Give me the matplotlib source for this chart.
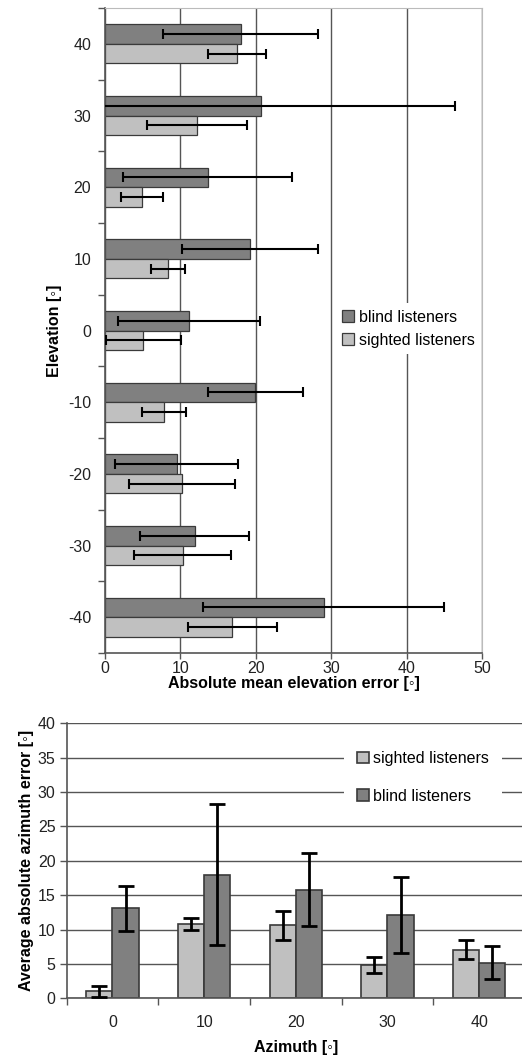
import matplotlib

matplotlib.use("Agg")
import matplotlib.pyplot as plt
import numpy as np

plt.rcParams["font.family"] = ["Liberation Sans", "DejaVu Sans"]

# ---- top panel: elevation error per elevation ----
elevations = [-40, -30, -20, -10, 0, 10, 20, 30, 40]
elev_blind = [29.0, 11.9, 9.5, 19.9, 11.1, 19.2, 13.6, 20.7, 18.0]
elev_blind_err = [16.0, 7.2, 8.2, 6.3, 9.4, 9.0, 11.2, 25.7, 10.3]
elev_sighted = [16.9, 10.3, 10.2, 7.8, 5.1, 8.3, 4.9, 12.2, 17.5]
elev_sighted_err = [5.9, 6.4, 7.0, 2.9, 5.0, 2.25, 2.8, 6.6, 3.9]

# ---- bottom panel: azimuth error per azimuth ----
azimuths = [0, 10, 20, 30, 40]
az_sighted = [1.0, 10.8, 10.6, 4.9, 7.1]
az_sighted_err = [0.8, 0.9, 2.1, 1.15, 1.4]
az_blind = [13.1, 18.0, 15.8, 12.1, 5.2]
az_blind_err = [3.3, 10.2, 5.3, 5.5, 2.35]

DARK = "#808080"
LIGHT = "#c0c0c0"
EDGE = "#3a3a3a"
GRID = "#555555"
TXT = "#222222"
DEG = "[\u25e6]"

fig = plt.figure(figsize=(5.22, 10.57), dpi=100)

# ================= top =================
ax1 = fig.add_axes([0.2011, 0.3822, 0.7223, 0.6102])
y = np.arange(len(elevations))
h = 0.272
ax1.barh(y + h / 2, elev_blind, height=h, color=DARK, edgecolor=EDGE,
         linewidth=0.9, label="blind listeners", zorder=2)
ax1.barh(y - h / 2, elev_sighted, height=h, color=LIGHT, edgecolor=EDGE,
         linewidth=0.9, label="sighted listeners", zorder=2)
ax1.errorbar(elev_blind, y + h / 2, xerr=elev_blind_err, fmt="none",
             ecolor="black", elinewidth=1.5, capsize=3.5, capthick=1.5, zorder=3)
ax1.errorbar(elev_sighted, y - h / 2, xerr=elev_sighted_err, fmt="none",
             ecolor="black", elinewidth=1.5, capsize=3.5, capthick=1.5, zorder=3)

ax1.set_xlim(0, 50)
ax1.set_ylim(-0.5, len(elevations) - 0.5)
ax1.set_xticks([0, 10, 20, 30, 40, 50])
ax1.set_yticks(y)
ax1.set_yticklabels([str(e) for e in elevations])
ax1.set_yticks(np.arange(-0.5, len(elevations)), minor=True)
ax1.tick_params(axis="y", which="major", length=0, pad=10, labelsize=11.5,
                labelcolor=TXT)
ax1.tick_params(axis="y", which="minor", length=5, width=1, color=GRID)
ax1.tick_params(axis="x", length=4, width=1, color=GRID, labelsize=11.5,
                labelcolor=TXT, pad=2)
ax1.grid(axis="x", color=GRID, linewidth=1, zorder=0)
ax1.set_axisbelow(True)
for s in ("top", "right"):
    ax1.spines[s].set_color("#bbbbbb")
for s in ("left", "bottom"):
    ax1.spines[s].set_color(GRID)
    ax1.spines[s].set_linewidth(1.2)
ax1.set_xlabel(f"Absolute mean elevation error {DEG}", fontsize=11.5,
               fontweight="bold", labelpad=0, color="black")
ax1.set_ylabel(f"Elevation {DEG}", fontsize=11.5, fontweight="bold",
               labelpad=4, color="black")
leg1 = ax1.legend(loc="center left", bbox_to_anchor=(0.59, 0.503),
                  frameon=True, framealpha=1, edgecolor="white", fontsize=11.5,
                  handlelength=0.75, handleheight=0.75, handletextpad=0.3,
                  labelspacing=0.5, borderpad=0.4, fancybox=False)
leg1.get_frame().set_linewidth(0)

# ================= bottom =================
ax2 = fig.add_axes([0.1277, 0.0555, 0.878, 0.2602])
x = np.arange(len(azimuths))
w = 0.285
ax2.bar(x - w / 2, az_sighted, width=w, color=LIGHT, edgecolor=EDGE,
        linewidth=1.2, label="sighted listeners", zorder=2)
ax2.bar(x + w / 2, az_blind, width=w, color=DARK, edgecolor=EDGE,
        linewidth=1.2, label="blind listeners", zorder=2)
ax2.errorbar(x - w / 2, az_sighted, yerr=az_sighted_err, fmt="none",
             ecolor="black", elinewidth=2, capsize=5.5, capthick=2, zorder=3)
ax2.errorbar(x + w / 2, az_blind, yerr=az_blind_err, fmt="none",
             ecolor="black", elinewidth=2, capsize=5.5, capthick=2, zorder=3)

ax2.set_ylim(0, 40)
ax2.set_xlim(-0.5, len(azimuths) - 0.5)
ax2.set_yticks(np.arange(0, 41, 5))
ax2.set_xticks(x)
ax2.set_xticklabels([str(a) for a in azimuths])
ax2.set_xticks(np.arange(-0.5, len(azimuths)), minor=True)
ax2.tick_params(axis="x", which="major", length=0, pad=12, labelsize=11.5,
                labelcolor=TXT)
ax2.tick_params(axis="x", which="minor", length=5, width=1, color=GRID)
ax2.tick_params(axis="y", length=5, width=1, color=GRID, labelsize=11.5,
                labelcolor=TXT, pad=3)
ax2.grid(axis="y", color=GRID, linewidth=1, zorder=0)
ax2.set_axisbelow(True)
ax2.spines["top"].set_visible(False)
ax2.spines["right"].set_visible(False)
for s in ("left", "bottom"):
    ax2.spines[s].set_color(GRID)
    ax2.spines[s].set_linewidth(1.2)
ax2.set_xlabel(f"Azimuth {DEG}", fontsize=11.5, fontweight="bold", labelpad=7,
               color="black")
ax2.set_ylabel(f"Average absolute azimuth error {DEG}", fontsize=11.5,
               fontweight="bold", labelpad=3, color="black")
leg2 = ax2.legend(loc="upper left", bbox_to_anchor=(0.605, 0.945),
                  frameon=True, framealpha=1, edgecolor="white", fontsize=11.5,
                  handlelength=0.75, handleheight=0.75, handletextpad=0.3,
                  labelspacing=1.4, borderpad=0.8, borderaxespad=0.0,
                  fancybox=False)
leg2.get_frame().set_linewidth(0)

fig.savefig("out.png", dpi=100)
